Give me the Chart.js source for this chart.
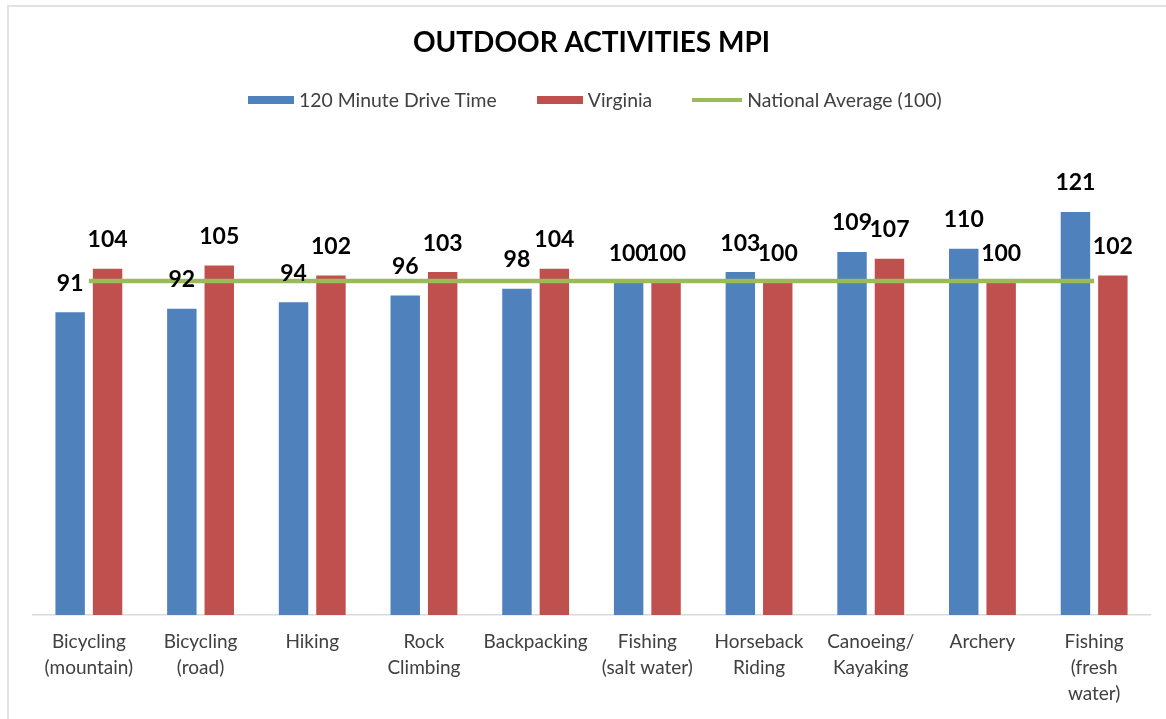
<!DOCTYPE html>
<html>
<head>
<meta charset="utf-8">
<script src="https://cdn.jsdelivr.net/npm/chart.js@4/dist/chart.umd.min.js"></script>
<style>
    html, body { margin: 0; padding: 0; background: #fff; }
    #wrap { position: relative; width: 1166px; height: 719px; overflow: hidden; }
    #frame { position: absolute; left: 7px; top: 5px; width: 1200px; height: 760px;
             border-left: 2px solid #e2e2e2; border-top: 2px solid #e2e2e2; box-sizing: border-box; }
    #legend { position: absolute; left: 248px; top: 88px; display: flex; align-items: center;
              font-family: Lato, sans-serif; font-size: 19.4px; color: #404040; }
    .lg-item { display: flex; align-items: center; margin-right: 40px; white-space: nowrap; }
    .lg-sw { display: inline-block; margin-right: 5px; }
    canvas { position: absolute; left: 0; top: 0; }
</style>
</head>
<body>
<div id="wrap">
    <div id="frame"></div>
    <canvas id="mpiChart" width="1166" height="719"></canvas>
    <div id="legend"></div>
</div>
<script>
/* Outdoor activities MPI — grouped bars with a national-average line. */

const COLOURS = { drive: '#4f81bd', virginia: '#c0504d', national: '#9bbb59' };

const categories = [
    ['Bicycling', '(mountain)'], ['Bicycling', '(road)'], 'Hiking', ['Rock', 'Climbing'],
    'Backpacking', ['Fishing', '(salt water)'], ['Horseback', 'Riding'], ['Canoeing/', 'Kayaking'],
    'Archery', ['Fishing', '(fresh', 'water)'],
];
const driveTime = [91, 92, 94, 96, 98, 100, 103, 109, 110, 121];
const virginia = [104, 105, 102, 103, 104, 100, 100, 107, 100, 102];
const nationalAverage = [100, 100, 100, 100, 100, 100, 100, 100, 100, 100];

// value labels above each bar
const barLabels = {
    id: 'barLabels',
    afterDatasetsDraw(chart) {
        const ctx = chart.ctx;
        ctx.save();
        ctx.font = 'bold 23px Lato, sans-serif';
        ctx.fillStyle = '#000';
        ctx.textAlign = 'center';
        ctx.textBaseline = 'middle';
        chart.data.datasets.forEach((ds, i) => {
            if (ds.type === 'line') return;
            chart.getDatasetMeta(i).data.forEach((bar, j) => {
                ctx.fillText(ds.data[j], bar.x, bar.y - 28);
            });
        });
        ctx.restore();
    },
};

const chart = new Chart(document.getElementById('mpiChart'), {
    type: 'bar',
    data: {
        labels: categories,
        datasets: [
            { label: '120 Minute Drive Time', data: driveTime, backgroundColor: COLOURS.drive,
              borderColor: 'rgba(255,255,255,.35)', borderWidth: 1, order: 1,
              categoryPercentage: 0.67, barPercentage: 0.84 },
            { label: 'Virginia', data: virginia, backgroundColor: COLOURS.virginia,
              borderColor: 'rgba(255,255,255,.35)', borderWidth: 1, order: 1,
              categoryPercentage: 0.67, barPercentage: 0.84 },
            { label: 'National Average (100)', type: 'line', data: nationalAverage,
              borderColor: COLOURS.national, backgroundColor: COLOURS.national,
              borderWidth: 4.5, pointRadius: 0, order: 0 },
        ],
    },
    options: {
        responsive: false, animation: false,
        layout: { padding: { left: 33, right: 16, top: 0, bottom: -2 } },
        plugins: {
            legend: { display: false },
            tooltip: { enabled: false },
            title: {
                display: true, text: 'OUTDOOR ACTIVITIES MPI', color: '#000',
                font: { family: 'Lato, sans-serif', size: 28, weight: 'bold', lineHeight: 1.2 },
                padding: { top: 26, bottom: 88 },
            },
        },
        scales: {
            y: { display: false, min: 0, max: 140 },
            x: {
                grid: { display: false, drawTicks: false },
                border: { display: true, color: '#d9d9d9', width: 1.5 },
                ticks: { color: '#404040', padding: 14, maxRotation: 0, autoSkip: false,
                         font: { family: 'Lato, sans-serif', size: 19, lineHeight: 1.37 } },
            },
        },
    },
    plugins: [barLabels],
});

// legend drawn from the chart's own datasets
document.getElementById('legend').innerHTML = chart.data.datasets.map((ds) => {
    const sw = ds.type === 'line'
        ? `width:50px;height:4px;background:${ds.borderColor}`
        : `width:46px;height:8px;background:${ds.backgroundColor}`;
    return `<span class="lg-item"><span class="lg-sw" style="${sw}"></span>${ds.label}</span>`;
}).join('');
</script>
</body>
</html>
